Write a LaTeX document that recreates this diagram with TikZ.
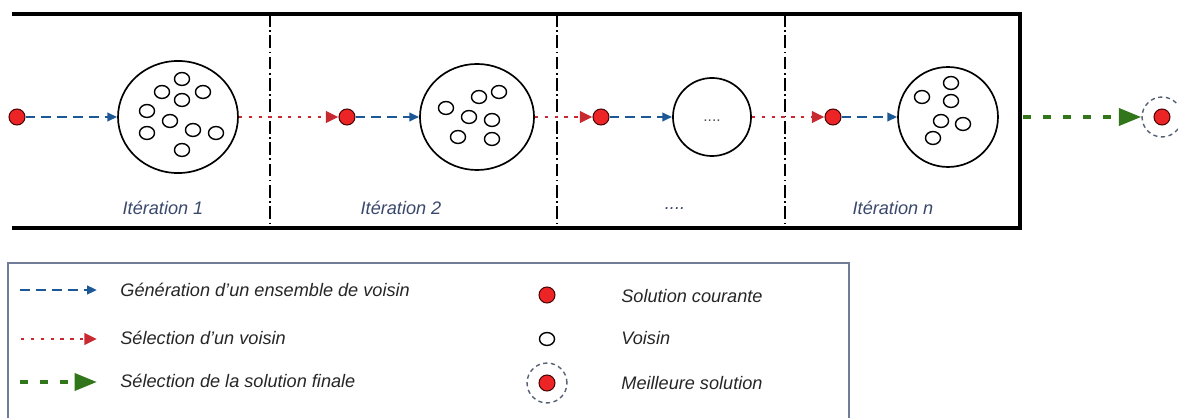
\documentclass[tikz,border=0pt]{standalone}
\usepackage{fontspec}
\setmainfont{Liberation Sans}
\usetikzlibrary{arrows.meta,shapes.geometric}
\definecolor{bleu}{RGB}{28,88,150}
\definecolor{rouge}{RGB}{200,40,48}
\definecolor{vert}{RGB}{50,118,28}
\definecolor{pointrouge}{RGB}{236,36,38}
\definecolor{texteiter}{RGB}{58,72,108}
\definecolor{cadre}{RGB}{112,124,152}
\definecolor{gristir}{RGB}{88,98,118}

\begin{document}
\begin{tikzpicture}[x=0.025cm, y=-0.025cm, line width=1pt,
  font=\fontsize{12.9}{15}\selectfont\itshape,
  sol/.style={circle, fill=pointrouge, draw=black!75!red, line width=0.7pt, minimum size=11.4pt, inner sep=0pt},
  voisin/.style={ellipse, draw, line width=1pt, minimum width=10.7pt, minimum height=9.2pt, inner sep=0pt},
  ens/.style={ellipse, draw, line width=1.2pt, inner sep=0pt},
  best/.style={circle, draw=gristir, dash pattern=on 3pt off 2.5pt, line width=1pt, minimum size=28.4pt, inner sep=0pt},
  gen/.style={draw=bleu, line width=1.7pt, dash pattern=on 7pt off 4.3pt, -{Triangle[length=7pt, width=6pt, fill=bleu]}},
  sel/.style={draw=rouge, line width=2.1pt, dash pattern=on 2.4pt off 4.6pt, -{Triangle[length=9pt, width=8pt, fill=rouge]}},
  fin/.style={draw=vert, line width=3pt, dash pattern=on 5.7pt off 8.5pt, -{Triangle[length=16pt, width=12pt, fill=vert]}},
  sep/.style={line width=1pt, dash pattern=on 9pt off 2.5pt on 1.2pt off 2.5pt},
  iter/.style={text=texteiter},
  leg/.style={anchor=west, text=black!85}]
  \useasboundingbox (0,0) rectangle (1178,418);

  % cadre des iterations (ouvert a gauche)
  \draw[line width=2.8pt] (12,14) -- (1020,14) -- (1020,228) -- (12,228);
  \foreach \x in {270,557,785}
    \draw[sep] (\x,14) -- (\x,228);

  % ensembles de voisins
  \node[ens, minimum width=85.3pt, minimum height=79.7pt] (c1) at (178,117) {};
  \node[ens, minimum width=81.1pt, minimum height=75.4pt] (c2) at (477,117) {};
  \node[ens, minimum width=55.5pt, minimum height=55.5pt] (c3) at (712,117) {};
  \node[ens, minimum width=71.1pt, minimum height=71.1pt] (c4) at (948,117) {};
  \node[font=\fontsize{11}{13}\selectfont, text=black!70] (pts) at (712,121) {....};

  % voisins
  \foreach \p [count=\i] in {(182,79),(162,92),(203,92),(182,100),(147,111),(170,121),(147,133),(193,130),(216,133),(182,150)}
    \node[voisin] (a\i) at \p {};
  \foreach \p [count=\i] in {(479,97),(499,92),(446,108),(469,117),(492,120),(458,137),(492,139)}
    \node[voisin] (b\i) at \p {};
  \foreach \p [count=\i] in {(951,83),(922,97),(951,101),(941,121),(963,124),(933,138)}
    \node[voisin] (d\i) at \p {};

  % solutions courantes
  \node[sol] (s0) at (17,117) {};
  \node[sol] (s1) at (347,117) {};
  \node[sol] (s2) at (601,117) {};
  \node[sol] (s3) at (833,117) {};
  \node[best] (m) at (1162,117) {};
  \node[sol] (sm) at (m) {};
  \coordinate (f0) at (1023,117);

  % fleches
  \draw[gen] (s0) -- (c1);
  \draw[sel] (c1) -- (s1);
  \draw[gen] (s1) -- (c2);
  \draw[sel] (c2) -- (s2);
  \draw[gen] (s2) -- (c3);
  \draw[sel] (c3) -- (s3);
  \draw[gen] (s3) -- (c4);
  \draw[fin] (f0) -- (m);

  % etiquettes
  \node[iter] (it1) at (163,208) {Itération 1};
  \node[iter] (it2) at (401,208) {Itération 2};
  \node[iter] (it3) at (675,209) {....};
  \node[iter] (itn) at (893,208) {Itération n};

  % legende
  \draw[cadre, line width=0.9pt] (8,263) rectangle (849,440);
  \coordinate (g1) at (20,290);  \coordinate (g2) at (97,290);
  \coordinate (r1) at (21,339);  \coordinate (r2) at (97,339);
  \coordinate (v1) at (20,382);  \coordinate (v2) at (97,382);
  \draw[gen] (g1) -- (g2);
  \draw[sel] (r1) -- (r2);
  \draw[fin] (v1) -- (v2);
  \node[leg] (lg) at (115,290) {Génération d'un ensemble de voisin};
  \node[leg] (lr) at (115,338) {Sélection d'un voisin};
  \node[leg] (lv) at (115,381) {Sélection de la solution finale};

  \node[sol] (ks) at (547,295) {};
  \node[voisin] (kv) at (547,339) {};
  \node[best] (km) at (547,383) {};
  \node[sol] (kms) at (km) {};
  \node[leg] (ls) at (616,296) {Solution courante};
  \node[leg] (lo) at (616,338) {Voisin};
  \node[leg] (lm) at (616,383) {Meilleure solution};
\end{tikzpicture}
\end{document}
